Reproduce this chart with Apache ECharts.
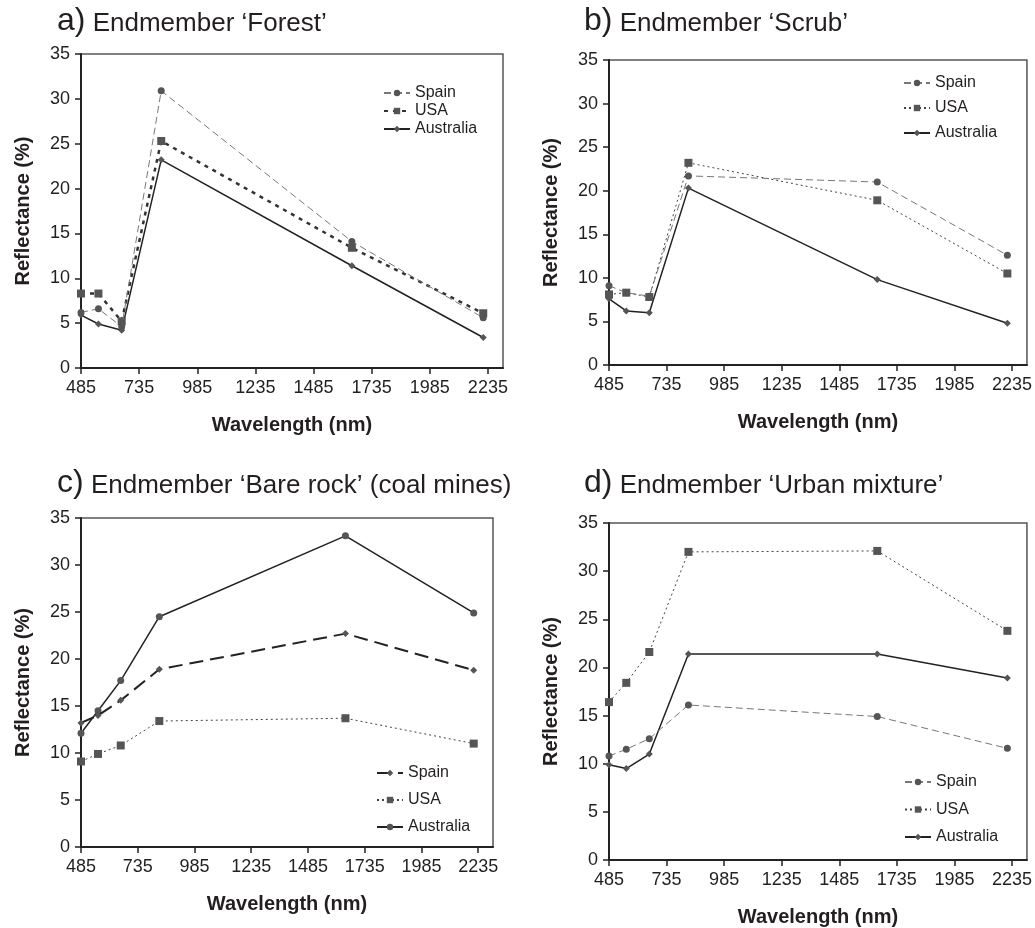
<!DOCTYPE html>
<html>
<head>
<meta charset="utf-8">
<script src="https://cdn.jsdelivr.net/npm/echarts@6/dist/echarts.min.js"></script>
<style>
  html, body { margin: 0; padding: 0; background: #fff; }
  #chart { width: 1035px; height: 928px; }
</style>
</head>
<body>
<div id="chart"></div>
<script>
  // band centre wavelengths (nm) and axis ticks
  const wavelengths = [485, 560, 660, 830, 1650, 2215];
  const xTicks = [485, 735, 985, 1235, 1485, 1735, 1985, 2235];
  const countries = ['Spain', 'USA', 'Australia'];

  // a) Forest
  const forestSpain = [6.2, 6.6, 4.6, 30.9, 14.1, 5.6];
  const forestUSA = [8.3, 8.3, 5.2, 25.3, 13.4, 6.1];
  const forestAustralia = [5.9, 4.9, 4.2, 23.2, 11.4, 3.4];

  // b) Scrub
  const scrubSpain = [9.1, 8.3, 7.9, 21.7, 21.0, 12.6];
  const scrubUSA = [8.1, 8.3, 7.8, 23.2, 18.9, 10.5];
  const scrubAustralia = [7.6, 6.2, 6.0, 20.3, 9.8, 4.8];

  // c) Bare rock (coal mines)
  const rockSpain = [13.2, 14.0, 15.6, 18.9, 22.7, 18.8];
  const rockUSA = [9.1, 9.9, 10.8, 13.4, 13.7, 11.0];
  const rockAustralia = [12.1, 14.5, 17.7, 24.5, 33.1, 24.9];

  // d) Urban mixture
  const urbanSpain = [10.8, 11.5, 12.6, 16.1, 14.9, 11.6];
  const urbanUSA = [16.4, 18.4, 21.6, 32.0, 32.1, 23.8];
  const urbanAustralia = [9.9, 9.5, 11.0, 21.4, 21.4, 18.9];

  const titles = [
    ['a)', 'Endmember \u2018Forest\u2019'],
    ['b)', 'Endmember \u2018Scrub\u2019'],
    ['c)', 'Endmember \u2018Bare rock\u2019 (coal mines)'],
    ['d)', 'Endmember \u2018Urban mixture\u2019']
  ];

  const font = '"Liberation Sans", Arial, sans-serif';
  const textColor = '#231f20';
  const markColor = '#555';

  // line / marker styles for each panel, order Spain, USA, Australia
  const dashGray = { color: '#777', width: 1, type: [7, 4] };
  const dotFine = { color: '#444', width: 1, type: [2, 3] };
  const solid = { color: '#222', width: 1.5, type: 'solid' };

  const panels = [
    {
      key: 'a', values: [forestSpain, forestUSA, forestAustralia],
      grid: { left: 81, top: 54, width: 422, height: 314 },
      title: { left: 52, top: -6 },
      legend: { left: 378, top: 80, itemGap: 2 },
      styles: [
        { symbol: 'circle', size: 7, line: dashGray },
        { symbol: 'rect', size: 8, line: { color: '#333', width: 2.5, type: [4, 5] } },
        { symbol: 'diamond', size: 7, line: solid }
      ]
    },
    {
      key: 'b', values: [scrubSpain, scrubUSA, scrubAustralia],
      grid: { left: 609, top: 60, width: 418, height: 305 },
      title: { left: 579, top: -6 },
      legend: { left: 898, top: 70, itemGap: 9 },
      styles: [
        { symbol: 'circle', size: 7, line: dashGray },
        { symbol: 'rect', size: 8, line: dotFine },
        { symbol: 'diamond', size: 7, line: solid }
      ]
    },
    {
      key: 'c', values: [rockSpain, rockUSA, rockAustralia],
      grid: { left: 81, top: 518, width: 412, height: 329 },
      title: { left: 52, top: 456 },
      legend: { left: 371, top: 760, itemGap: 11 },
      styles: [
        { symbol: 'diamond', size: 7, line: { color: '#222', width: 2, type: [14, 7] } },
        { symbol: 'rect', size: 8, line: dotFine },
        { symbol: 'circle', size: 7, line: solid }
      ]
    },
    {
      key: 'd', values: [urbanSpain, urbanUSA, urbanAustralia],
      grid: { left: 609, top: 523, width: 419, height: 339 },
      title: { left: 579, top: 456 },
      legend: { left: 899, top: 769, itemGap: 11.5 },
      styles: [
        { symbol: 'circle', size: 7, line: dashGray },
        { symbol: 'rect', size: 8, line: dotFine },
        { symbol: 'diamond', size: 7, line: solid }
      ]
    }
  ];

  const option = {
    backgroundColor: '#fff',
    animation: false,
    textStyle: { fontFamily: font, color: textColor },
    title: [],
    legend: [],
    grid: [],
    xAxis: [],
    yAxis: [],
    series: []
  };

  panels.forEach(function (p, gi) {
    option.title.push({
      left: p.title.left,
      top: p.title.top,
      text: '{l|' + titles[gi][0] + '} {t|' + titles[gi][1] + '}',
      textStyle: {
        fontWeight: 'normal',
        fontSize: 26,
        rich: {
          l: { fontSize: 32, fontWeight: 'normal', color: textColor, fontFamily: font, lineHeight: 38, verticalAlign: 'bottom' },
          t: { fontSize: 26, fontWeight: 'normal', color: textColor, fontFamily: font, lineHeight: 38, verticalAlign: 'bottom' }
        }
      }
    });

    option.grid.push(Object.assign({
      show: true, borderColor: '#555', borderWidth: 1.5, backgroundColor: '#fff'
    }, p.grid));

    option.xAxis.push({
      type: 'value', gridIndex: gi, min: 485, max: 2300,
      name: 'Wavelength (nm)', nameLocation: 'middle', nameGap: 47,
      nameTextStyle: { fontSize: 20, fontWeight: 'bold', color: textColor },
      axisLine: { onZero: false, lineStyle: { color: '#222', width: 2 } },
      axisTick: { show: true, length: 6, customValues: xTicks, lineStyle: { color: '#222', width: 1.5 } },
      axisLabel: {
        customValues: xTicks, fontSize: 18, color: textColor, margin: 11,
        formatter: function (v) { return String(v); }
      },
      splitLine: { show: false }
    });

    option.yAxis.push({
      type: 'value', gridIndex: gi, min: 0, max: 35, interval: 5,
      name: 'Reflectance (%)', nameLocation: 'middle', nameGap: 48,
      nameTextStyle: { fontSize: 20, fontWeight: 'bold', color: textColor },
      axisLine: { show: true, lineStyle: { color: '#222', width: 2 } },
      axisTick: { show: true, length: 6, lineStyle: { color: '#222', width: 1.5 } },
      axisLabel: { fontSize: 18, color: textColor, margin: 11 },
      splitLine: { show: false }
    });

    const names = countries.map(function (c) { return p.key + '-' + c; });

    option.legend.push({
      data: names,
      orient: 'vertical',
      left: p.legend.left,
      top: p.legend.top,
      itemGap: p.legend.itemGap,
      itemWidth: 26,
      itemHeight: 8,
      selectedMode: false,
      formatter: function (n) { return n.slice(2); },
      textStyle: { fontSize: 16, color: textColor }
    });

    countries.forEach(function (c, si) {
      const st = p.styles[si];
      option.series.push({
        name: names[si],
        type: 'line',
        xAxisIndex: gi,
        yAxisIndex: gi,
        data: wavelengths.map(function (w, i) { return [w, p.values[si][i]]; }),
        symbol: st.symbol,
        symbolSize: st.size,
        showSymbol: true,
        itemStyle: { color: markColor },
        lineStyle: st.line,
        z: 3 - si
      });
    });
  });

  const chart = echarts.init(document.getElementById('chart'), null, { renderer: 'canvas' });
  chart.setOption(option);
</script>
</body>
</html>
